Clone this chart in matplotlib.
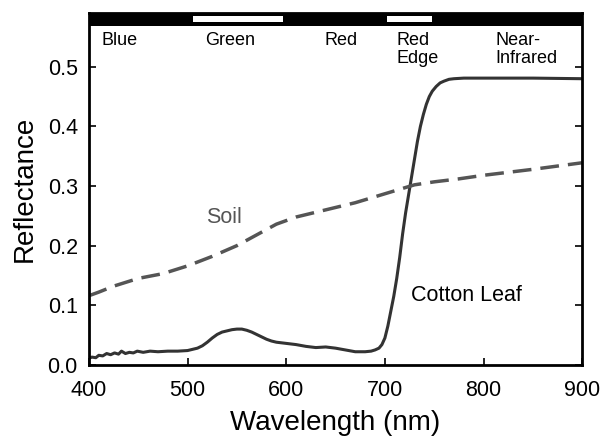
import matplotlib.pyplot as plt
from matplotlib.patches import Rectangle

plt.rcParams['font.family'] = ['Liberation Sans', 'DejaVu Sans']

# cotton leaf reflectance
leaf_wl = [400, 403, 407, 410, 414, 418, 422, 426, 430, 433, 437, 441, 445, 449,
           455, 462, 470, 480, 490, 500, 505, 510, 515, 520, 525, 530, 535, 540,
           545, 550, 555, 560, 565, 570, 575, 580, 585, 590, 600, 610, 620, 630,
           640, 650, 660, 670, 680, 686, 690, 694, 697, 700, 703, 706, 709, 712,
           715, 718, 721, 724, 727, 730, 733, 736, 739, 742, 745, 748, 752, 756,
           760, 765, 770, 780, 800, 850, 900]
leaf_refl = [0.011, 0.013, 0.012, 0.016, 0.015, 0.019, 0.017, 0.020, 0.018, 0.023,
             0.019, 0.021, 0.020, 0.023, 0.021, 0.023, 0.022, 0.023, 0.023, 0.024,
             0.026, 0.028, 0.032, 0.038, 0.045, 0.051, 0.055, 0.057, 0.059, 0.060,
             0.060, 0.058, 0.055, 0.051, 0.047, 0.043, 0.040, 0.038, 0.036, 0.034,
             0.031, 0.029, 0.030, 0.028, 0.025, 0.022, 0.022, 0.023, 0.025, 0.028,
             0.034, 0.045, 0.065, 0.090, 0.115, 0.145, 0.180, 0.220, 0.255, 0.285,
             0.315, 0.345, 0.375, 0.400, 0.420, 0.437, 0.450, 0.459, 0.467, 0.473,
             0.476, 0.479, 0.480, 0.481, 0.481, 0.481, 0.480]

# bare soil reflectance
soil_wl = [400, 410, 425, 450, 475, 500, 525, 550, 570, 590, 610, 630, 650,
           670, 690, 710, 730, 750, 775, 800, 850, 900]
soil_refl = [0.116, 0.122, 0.132, 0.145, 0.153, 0.166, 0.182, 0.200, 0.218,
             0.236, 0.248, 0.256, 0.264, 0.272, 0.282, 0.292, 0.302, 0.307,
             0.312, 0.318, 0.328, 0.339]

# spectral bands shown as white gaps in the top bar
white_bands = [(505, 597), (702, 748)]
band_names = ["Blue", "Green", "Red", "Red", "Near-"]
band_x = [413, 518, 639, 712, 812]
band_line2 = ["", "", "", "Edge", "Infrared"]

fig = plt.figure(figsize=(6.09, 4.38), dpi=100)
ax = fig.add_axes([0.146, 0.167, 0.81, 0.803])

ax.plot(leaf_wl, leaf_refl, color='#333333', lw=2.2)
ax.plot(soil_wl, soil_refl, color='#555555', lw=2.5, linestyle=(0, (5.4, 2.6)))

# top bar
ax.add_patch(Rectangle((400, 0.568), 500, 0.022, color='black', lw=0, clip_on=False))
for x0, x1 in white_bands:
    ax.add_patch(Rectangle((x0, 0.5755), x1 - x0, 0.010, color='white', lw=0))

for name, x, l2 in zip(band_names, band_x, band_line2):
    ax.text(x, 0.537, name, fontsize=13, va='baseline', ha='left')
    if l2:
        ax.text(x, 0.507, l2, fontsize=13, va='baseline', ha='left')

ax.text(519, 0.247, "Soil", fontsize=15.5, color='#555555', va='center', ha='left')
ax.text(726, 0.117, "Cotton Leaf", fontsize=15.5, color='black', va='center', ha='left')

ax.set_xlim(400, 900)
ax.set_ylim(0, 0.59)
ax.set_xticks([400, 500, 600, 700, 800, 900])
ax.set_yticks([0.0, 0.1, 0.2, 0.3, 0.4, 0.5])
ax.set_yticklabels(["0.0", "0.1", "0.2", "0.3", "0.4", "0.5"])
ax.tick_params(direction='in', length=5, width=1.2, labelsize=15.5, right=True, top=False)
ax.tick_params(axis='x', pad=11)
ax.tick_params(axis='y', pad=8)
for s in ax.spines.values():
    s.set_linewidth(2)

ax.set_xlabel("Wavelength (nm)", fontsize=20)
ax.set_ylabel("Reflectance", fontsize=20)
ax.xaxis.set_label_coords(0.5, -0.128)
ax.yaxis.set_label_coords(-0.103, 0.5)

fig.savefig("out.png", dpi=100)
